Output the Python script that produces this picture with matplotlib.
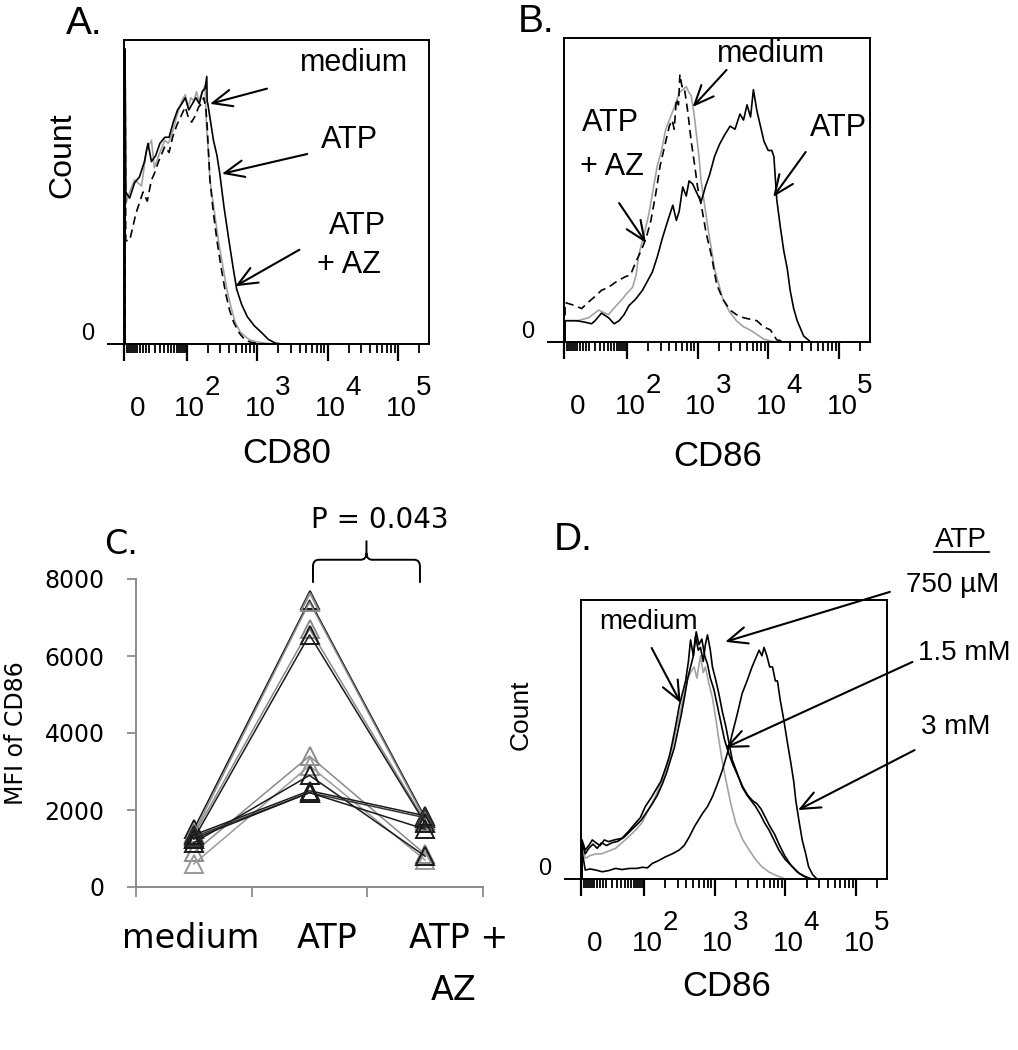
import numpy as np
import matplotlib
matplotlib.use("Agg")
import matplotlib.pyplot as plt
from matplotlib.path import Path
from matplotlib.patches import PathPatch

# ------------------------------------------------------------------
# DATA  (flow histograms: x = position on the biexponential axis in
# decades (2 -> 10^2, 3 -> 10^3 ...), y = % of axis maximum count)
# ------------------------------------------------------------------
# Panel A : CD80
a_medium_u = [1.125,1.125,1.135,1.19,1.26,1.36,1.43,1.50,1.54,1.62,
              1.69,1.74,1.79,1.86,1.93,1.98,2.02,2.06,2.10,2.14,
              2.17,2.21,2.24,2.26,2.28,2.31,2.33,2.39,2.45,2.51,
              2.57,2.63,2.69,2.76,2.83,2.90,2.98,3.07,3.15,3.25]
a_medium_c = [0,97,46,50,54,52,64,67,58,63,
              67,66,69,75,80,82,78,81,80,83,
              80,82,84,85,72,62,54,44,34,26,
              18,12,7,4,2.5,1.3,0.8,0.4,0.2,0]
a_atp_u = [1.125,1.125,1.135,1.19,1.26,1.33,1.40,1.45,1.50,1.56,
           1.62,1.69,1.75,1.81,1.87,1.93,1.98,2.03,2.08,2.13,
           2.18,2.22,2.26,2.285,2.29,2.30,2.34,2.38,2.43,2.47,
           2.53,2.60,2.66,2.71,2.78,2.86,2.96,3.07,3.16,3.26,
           3.35]
a_atp_c = [0,97,50,48,53,55,60,66,60,62,
           66,68,68,73,77,79,81,77,79,81,
           79,83,84,88,80,79,73,67,62,56,
           45,34,25,18,13,9,6,3.6,1.5,0.3,
           0]
a_atpaz_u = [1.125,1.125,1.135,1.19,1.28,1.38,1.44,1.50,1.54,1.60,
             1.69,1.75,1.80,1.86,1.92,1.98,2.03,2.07,2.12,2.17,
             2.21,2.24,2.27,2.29,2.33,2.38,2.43,2.49,2.55,2.61,
             2.67,2.75,2.83,2.92,3.02,3.12]
a_atpaz_c = [0,97,34,34,43,50,47,54,56,60,
             65,63,68,72,75,78,74,73,75,78,
             79,81,78,72,54,43,34,25,17,11,
             7,3.5,1.3,0.5,0.2,0]

# Panel B : CD86
b_medium_u = [1.125,1.125,1.30,1.46,1.60,1.74,1.85,1.93,2.00,2.08,
              2.13,2.17,2.24,2.31,2.37,2.43,2.49,2.55,2.60,2.65,
              2.70,2.74,2.79,2.84,2.88,2.91,2.95,2.98,3.02,3.05,
              3.10,3.15,3.20,3.24,3.30,3.36,3.45,3.55,3.65,3.74,
              3.84,3.93,4.02,4.12]
b_medium_c = [0,7,7,8,10.5,9,12,14,16,18,
              22,29,35,42,50,58,63,70,73,76,
              79,82,83,84,82,81,75,69,61,53,
              45,37,30,24,19,14,10,7,5,4,
              2.5,1,0.4,0]
b_atpaz_u = [1.125,1.125,1.26,1.36,1.45,1.55,1.64,1.74,1.86,1.98,
             2.05,2.12,2.20,2.27,2.34,2.41,2.47,2.53,2.57,2.60,
             2.64,2.67,2.70,2.73,2.75,2.78,2.81,2.86,2.91,2.96,
             3.00,3.06,3.12,3.20,3.27,3.36,3.46,3.55,3.65,3.74,
             3.84,3.93,4.03,4.12,4.27]
b_atpaz_c = [0,13,12,11,13,15,17,18,20,21.5,
             22,26,30,34,40,49,58,64,68,71,
             73,70,80,78,88,84,84,76,66,58,
             51,44,36,28,19,14,10.5,9,8,7.5,
             7,5,4,0.7,0]
b_atp_u = [1.125,1.125,1.29,1.41,1.50,1.55,1.64,1.74,1.82,1.89,
           1.96,2.03,2.12,2.22,2.29,2.36,2.43,2.50,2.58,2.65,
           2.70,2.74,2.79,2.84,2.88,2.93,2.99,3.05,3.11,3.17,
           3.24,3.31,3.38,3.46,3.53,3.60,3.65,3.70,3.75,3.79,
           3.84,3.89,3.94,4.00,4.05,4.08,4.12,4.17,4.22,4.27,
           4.31,4.36,4.41,4.50,4.60]
b_atp_c = [0,7,7,6.5,6,7,9.5,8,6,7,
           9,12,14,17,20,23,28,34,40,45,
           40,43,51,48,53,52,49,46,51,55,
           61,65,68,71,70,75,73,78,74,83,
           76,71,66,63,63,61,47,38,30,24,
           17,11,7,2,0]

# Panel D : CD86, ATP dose
d_medium_u = [1.125,1.125,1.17,1.25,1.32,1.40,1.50,1.60,1.69,1.78,
              1.88,1.97,2.07,2.17,2.26,2.33,2.40,2.46,2.52,2.57,
              2.61,2.66,2.71,2.75,2.80,2.84,2.87,2.92,2.97,3.02,
              3.06,3.11,3.16,3.23,3.30,3.40,3.49,3.58,3.67,3.77,
              3.86,4.00]
d_medium_c = [0,12,7.4,8.5,9,9,10,11,13,15,
              17.5,20,25,30,35.5,41,47,54,60.6,66,
              71,74,76,72,80,74,76,70,65,57,
              50,42,35.5,27,20,14,10.4,7,4.4,2.5,
              1.4,0]
d_750uM_u = [1.125,1.125,1.17,1.22,1.27,1.32,1.38,1.44,1.50,1.58,
             1.69,1.78,1.88,1.95,2.02,2.10,2.17,2.24,2.31,2.36,
             2.40,2.45,2.50,2.55,2.59,2.63,2.66,2.70,2.73,2.77,
             2.80,2.84,2.87,2.90,2.94,2.97,3.02,3.06,3.11,3.16,
             3.21,3.25,3.32,3.39,3.46,3.52,3.58,3.65,3.71,3.77,
             3.84,3.91,4.00,4.10,4.20,4.29,4.38]
d_750uM_c = [0,14,10.4,12,14,13,12,14,13.4,14,
             14.6,17,20,22,26,29,32,35,40,44,
             48.6,55,62,67,71,78,85.7,80,87,82,
             83,78,84,87.5,82,76,71,66.5,60,54.6,
             48,42.7,38,33,30,28,26,23,20,17.6,
             14,10.4,7,4.4,2,0.8,0]
d_1p5mM_u = [1.125,1.125,1.17,1.22,1.28,1.34,1.40,1.47,1.55,1.63,
             1.72,1.80,1.88,1.96,2.04,2.12,2.19,2.26,2.32,2.38,
             2.43,2.48,2.53,2.58,2.62,2.66,2.70,2.74,2.78,2.82,
             2.86,2.90,2.94,2.99,3.04,3.09,3.14,3.20,3.26,3.33,
             3.40,3.47,3.54,3.60,3.66,3.72,3.78,3.85,3.92,4.00,
             4.08,4.17,4.26,4.35]
d_1p5mM_c = [0,13,9,11,12.5,11,13,12,13,13.5,
             15,17,19,21,24,27,30,34,38,43,
             47,53,59,66,72,76,80,88.6,84,86,
             80,77,72,68,62,56,50,45,41,37,
             33,30,28,27,25,22,19,16,12,8,
             5,2.5,1,0]
d_3mM_u = [1.125,1.125,1.17,1.24,1.32,1.41,1.50,1.60,1.69,1.80,
           1.90,1.98,2.05,2.12,2.20,2.31,2.40,2.50,2.57,2.64,
           2.72,2.83,2.90,2.97,3.04,3.11,3.18,3.25,3.32,3.39,
           3.46,3.53,3.58,3.63,3.67,3.70,3.74,3.78,3.82,3.86,
           3.89,3.93,3.98,4.03,4.08,4.12,4.15,4.20,4.24,4.29,
           4.33,4.39,4.45]
d_3mM_c = [0,10,3.2,3.6,3.2,2.6,3.0,3.8,3.4,3.8,
           3.8,4.2,4.0,5.6,6.5,8,9,10.4,12,15,
           19,23.5,26,29.5,34,39,45,52,59,66.5,
           71,76,79,82,80,83,80,76,76,71,
           71,64,57,49,41.5,35,28,20,14,9,
           4.4,1.5,0]

# Panel C : MFI of CD86 per donor
c_categories = ["medium", "ATP", "ATP +\nAZ"]
c_medium = [1500, 1400, 1350, 1250, 900, 600, 1150, 1350, 1300, 1250]
c_atp    = [7450, 7400, 6700, 6550, 3400, 3150, 2900, 2500, 2450, 2450]
c_atp_az = [1800, 1750, 1700, 1650, 850, 700, 800, 1850, 1800, 1500]
c_colors = ["#1a1a1a", "#8a8a8a", "#8a8a8a", "#1a1a1a", "#8a8a8a",
            "#9a9a9a", "#1a1a1a", "#1a1a1a", "#333333", "#1a1a1a"]
c_pvalue = "P = 0.043"

# ------------------------------------------------------------------
W, H = 1018, 1050
plt.rcParams['font.family'] = ['Liberation Sans', 'DejaVu Sans']
fig = plt.figure(figsize=(W / 100, H / 100), dpi=100)


def rect(l, t, r, b):
    return [l / W, 1 - b / H, (r - l) / W, (b - t) / H]


def ftext(x, y, s, **kw):
    fig.text(x / W, 1 - y / H, s, ha='center', va='center', **kw)


GRAY = "#a3a3a3"
U_MIN, U_MAX = 1.11, 5.44
ZERO_U = 1.30
LIN_TICKS = [1.15, 1.18, 1.21, 1.24, 1.27, 1.30, 1.34, 1.38, 1.42, 1.47,
             1.55, 1.62, 1.68, 1.73, 1.78, 1.82, 1.86, 1.89, 1.92, 1.95, 1.97]
LOG_TICKS = [d + np.log10(k) for d in (2, 3, 4) for k in range(2, 10)] + [5 + np.log10(2)]


def flow_axes(ax):
    ax.set_xlim(U_MIN, U_MAX)
    ax.set_ylim(0, 100)
    for s in ax.spines.values():
        s.set_linewidth(1.4)
        s.set_color('black')
    ax.set_xticks([U_MIN, 2, 3, 4, 5])
    ax.set_xticks(LIN_TICKS + LOG_TICKS, minor=True)
    ax.set_xticklabels([])
    ax.set_yticks([0])
    ax.set_yticklabels([])
    ax.tick_params(axis='x', which='major', direction='out', length=12.5, width=1.6)
    ax.tick_params(axis='x', which='minor', direction='out', length=6.5, width=1.3)
    ax.tick_params(axis='y', direction='out', length=12.5, width=1.4)
    tr = ax.get_xaxis_transform()
    ax.annotate('0', xy=(ZERO_U, 0), xycoords=tr, xytext=(0, -65),
                textcoords='offset pixels', ha='center', va='center', fontsize=20)
    for d in (2, 3, 4, 5):
        ax.annotate('10', xy=(d, 0), xycoords=tr, xytext=(3, -65),
                    textcoords='offset pixels', ha='center', va='center', fontsize=20)
        ax.annotate(str(d), xy=(d, 0), xycoords=tr, xytext=(26, -44),
                    textcoords='offset pixels', ha='center', va='center', fontsize=20)
    ax.annotate('0', xy=(0, 0), xycoords='axes fraction', xytext=(-36, 10),
                textcoords='offset pixels', ha='center', va='center', fontsize=17)


def arrow(ax, head, tail):
    ax.annotate('', xy=head, xytext=tail, xycoords='data', textcoords='data',
                annotation_clip=False,
                arrowprops=dict(arrowstyle='->,head_length=0.7,head_width=0.3',
                                mutation_scale=20, lw=1.5, color='black',
                                shrinkA=0, shrinkB=0))


LW = 1.2
DASH = (0, (5, 3))

# ---------------- Panel A ----------------
axa = fig.add_axes(rect(124, 40, 429, 344))
flow_axes(axa)
axa.plot(a_medium_u, a_medium_c, color=GRAY, lw=LW)
axa.plot(a_atpaz_u, a_atpaz_c, color='black', lw=LW, ls=DASH)
axa.plot(a_atp_u, a_atp_c, color='black', lw=LW)
axa.text(4.37, 92.4, 'medium', ha='center', va='center', fontsize=22)
axa.text(4.31, 67, 'ATP', ha='center', va='center', fontsize=22)
axa.text(4.43, 38.8, 'ATP', ha='center', va='center', fontsize=22)
axa.text(4.30, 26, '+ AZ', ha='center', va='center', fontsize=22)
arrow(axa, (2.33, 79), (3.14, 84))
arrow(axa, (2.50, 56), (3.71, 62.5))
arrow(axa, (2.69, 19), (3.60, 31))
ftext(84, 24, 'A.', fontsize=28)
ftext(62, 155, 'Count', fontsize=23, rotation=90)
ftext(287, 453, 'CD80', fontsize=25)

# ---------------- Panel B ----------------
axb = fig.add_axes(rect(564, 38, 870, 342))
flow_axes(axb)
axb.plot(b_medium_u, b_medium_c, color=GRAY, lw=LW)
axb.plot(b_atpaz_u, b_atpaz_c, color='black', lw=LW, ls=DASH)
axb.plot(b_atp_u, b_atp_c, color='black', lw=LW)
axb.text(4.04, 94.7, 'medium', ha='center', va='center', fontsize=22)
axb.text(1.77, 72, 'ATP', ha='center', va='center', fontsize=22)
axb.text(1.79, 57.6, '+ AZ', ha='center', va='center', fontsize=22)
axb.text(4.99, 70.4, 'ATP', ha='center', va='center', fontsize=22)
arrow(axb, (2.93, 77.3), (3.41, 89.5))
arrow(axb, (2.27, 32.6), (1.89, 45.7))
arrow(axb, (4.07, 47.7), (4.53, 62.5))
ftext(536, 22, 'B.', fontsize=28)
ftext(718, 457, 'CD86', fontsize=25)

# ---------------- Panel D ----------------
axd = fig.add_axes(rect(581, 600, 887, 879))
flow_axes(axd)
axd.plot(d_medium_u, d_medium_c, color=GRAY, lw=LW)
axd.plot(d_1p5mM_u, d_1p5mM_c, color='black', lw=LW)
axd.plot(d_750uM_u, d_750uM_c, color='black', lw=LW)
axd.plot(d_3mM_u, d_3mM_c, color='black', lw=LW)
axd.text(2.07, 92.1, 'medium', ha='center', va='center', fontsize=20)
axd.text(6.49, 121.5, 'ATP', ha='center', va='center', fontsize=20, clip_on=False)
axd.plot([6.11, 6.89], [117.2, 117.2], color='black', lw=1.3, clip_on=False)
axd.text(6.37, 105.4, '750 µM', ha='center', va='center', fontsize=20, clip_on=False)
axd.text(6.54, 81, '1.5 mM', ha='center', va='center', fontsize=20, clip_on=False)
axd.text(6.41, 54.5, '3 mM', ha='center', va='center', fontsize=20, clip_on=False)
arrow(axd, (3.15, 85), (5.48, 102.9))
arrow(axd, (3.15, 47), (5.80, 77.8))
arrow(axd, (4.18, 24.7), (5.83, 46.2))
arrow(axd, (2.52, 63.1), (2.11, 82.8))
ftext(573, 540, 'D.', fontsize=28)
ftext(521, 715, 'Count', fontsize=19, rotation=90)
ftext(727, 987, 'CD86', fontsize=25)

# ---------------- Panel C ----------------
CG = "#8c8c8c"
axc = fig.add_axes(rect(136, 579, 483, 887))
xpos = np.arange(1, len(c_categories) + 1)
for m, a, z, col in zip(c_medium, c_atp, c_atp_az, c_colors):
    axc.plot(xpos, [m, a, z], color=col, lw=1.1, marker='^', ms=13,
             mfc='none', mec=col, mew=1.4, clip_on=False)
axc.set_xlim(0.5, len(c_categories) + 0.5)
axc.set_ylim(0, 8000)
axc.set_yticks(np.arange(0, 8001, 2000))
axc.set_xticks(np.arange(0.5, len(c_categories) + 1, 1.0))
axc.set_xticklabels([])
for side in ('top', 'right'):
    axc.spines[side].set_visible(False)
for side in ('left', 'bottom'):
    axc.spines[side].set_color(CG)
    axc.spines[side].set_linewidth(1.4)
axc.tick_params(axis='y', direction='out', length=6.5, width=1.3, color=CG,
                labelsize=17, pad=16)
axc.tick_params(axis='x', direction='out', length=7, width=1.3, color=CG)
for lab in axc.get_yticklabels():
    lab.set_family('DejaVu Sans')

cat_dx = [-3, 18, 33]
trc = axc.get_xaxis_transform()
for x, lab, dx in zip(xpos, c_categories, cat_dx):
    for k, line in enumerate(lab.split('\n')):
        axc.annotate(line, xy=(x, 0), xycoords=trc, xytext=(dx - 5 * k, -51 - 52 * k),
                     textcoords='offset pixels', ha='center', va='center',
                     fontsize=24, family='DejaVu Sans')
axc.annotate('MFI of CD86', xy=(0, 0.5), xycoords='axes fraction',
             xytext=(-120, 0), textcoords='offset pixels', rotation=90,
             ha='center', va='center', fontsize=17, family='DejaVu Sans')

# significance brace between ATP and ATP + AZ
bx0, bx1 = 2.03, 2.955
bm = (bx0 + bx1) / 2
yb, yh, yt = 7900, 8500, 9000
rx, ry = 0.05, 180
verts = [(bx0, yb), (bx0, yh - ry), (bx0, yh), (bx0 + rx, yh),
         (bm - rx, yh), (bm, yh), (bm, yh + ry), (bm, yt),
         (bm, yh + ry), (bm, yh), (bm + rx, yh),
         (bx1 - rx, yh), (bx1, yh), (bx1, yh - ry), (bx1, yb)]
codes = [Path.MOVETO, Path.LINETO, Path.CURVE3, Path.CURVE3,
         Path.LINETO, Path.CURVE3, Path.CURVE3, Path.LINETO,
         Path.MOVETO, Path.CURVE3, Path.CURVE3,
         Path.LINETO, Path.CURVE3, Path.CURVE3, Path.LINETO]
axc.add_patch(PathPatch(Path(verts, codes), fill=False, lw=1.4,
                        edgecolor='black', clip_on=False))
axc.text(2.61, 9530, c_pvalue, ha='center', va='center', fontsize=20,
         family='DejaVu Sans')
ftext(121, 544, 'C.', fontsize=24, family='DejaVu Sans')

fig.savefig('out.png', dpi=100)
